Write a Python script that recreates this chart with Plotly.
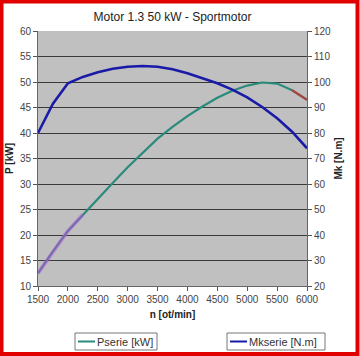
import plotly.graph_objects as go

rpm = [1500, 1750, 2000, 2250, 2500, 2750, 3000, 3250, 3500, 3750,
       4000, 4250, 4500, 4750, 5000, 5250, 5500, 5750, 6000]
p_kw = [12.5, 16.8, 20.8, 24.0, 27.1, 30.2, 33.3, 36.2, 38.9, 41.2,
        43.3, 45.2, 46.9, 48.3, 49.3, 49.9, 49.7, 48.4, 46.5]
mk_nm = [80.0, 91.5, 99.5, 102.0, 103.8, 105.2, 106.0, 106.3, 106.0, 105.0,
         103.4, 101.6, 99.5, 97.0, 94.0, 90.2, 85.8, 80.5, 74.0]

title = "Motor 1.3 50 kW - Sportmotor"
series_names = ["Pserie [kW]", "Mkserie [N.m]"]
x_ticks = [1500, 2000, 2500, 3000, 3500, 4000, 4500, 5000, 5500, 6000]

W, H = 360, 356
L, R, T, B = 38, 53, 31, 70
pw, ph = W - L - R, H - T - B

def px(x):
    return (x - L) / pw

def py(y):
    return (H - B - y) / ph

FONT = "Liberation Sans, Arial, sans-serif"
COL_P = "#2a8a7c"
COL_M = "#1a1aa8"

fig = go.Figure()
fig.add_trace(go.Scatter(x=rpm, y=p_kw, name=series_names[0], mode="lines",
                         line=dict(color=COL_P, width=2.2)))
# faint highlight artefacts seen on the power curve in the reference
fig.add_trace(go.Scatter(x=rpm[:4], y=p_kw[:4], mode="lines", hoverinfo="skip",
                         line=dict(color="rgba(200,80,230,0.45)", width=4)))
fig.add_trace(go.Scatter(x=rpm[-2:], y=p_kw[-2:], mode="lines", hoverinfo="skip",
                         line=dict(color="rgba(220,40,40,0.7)", width=2.4)))
fig.add_trace(go.Scatter(x=rpm, y=mk_nm, name=series_names[1], mode="lines",
                         line=dict(color=COL_M, width=2.6), yaxis="y2"))

fig.update_layout(
    width=W, height=H,
    margin=dict(l=L, r=R, t=T, b=B, autoexpand=False),
    paper_bgcolor="white",
    plot_bgcolor="#c0c0c0",
    showlegend=False,
    font=dict(family=FONT, size=10, color="#444"),
    title=dict(text=title, x=0.5, xref="paper", y=1 - 17 / H, yanchor="middle",
               font=dict(size=12, color="#222")),
    xaxis=dict(range=[1500, 6000], tickvals=x_ticks, ticks="outside", ticklen=4,
               tickcolor="#555", showgrid=False, showline=True, linecolor="#666",
               zeroline=False, automargin=False,
               title=dict(text="<b>n [ot/min]</b>", standoff=6,
                          font=dict(size=10, color="#222"))),
    yaxis=dict(range=[10, 60], dtick=5, ticks="outside", ticklen=4,
               tickcolor="#555", showgrid=True, gridcolor="#3a3a3a", gridwidth=1,
               showline=True, linecolor="#666", zeroline=False, automargin=False,
               title=dict(text="<b>P [kW]</b>", standoff=4,
                          font=dict(size=10, color="#222"))),
    yaxis2=dict(range=[20, 120], dtick=10, overlaying="y", side="right",
                ticks="outside", ticklen=4, tickcolor="#555", showgrid=False,
                showline=True, linecolor="#666", zeroline=False, automargin=False,
                title=dict(text="<b>Mk [N.m]</b>", standoff=4,
                           font=dict(size=10, color="#222"))),
)

# two separate legend boxes, drawn like the reference
legend_boxes = [(75, 157, COL_P), (227, 325, COL_M)]
for (bx0, bx1, col), name in zip(legend_boxes, series_names):
    fig.add_shape(type="rect", xref="paper", yref="paper",
                  x0=px(bx0), x1=px(bx1), y0=py(350), y1=py(333),
                  line=dict(color="#777", width=1), fillcolor="white")
    fig.add_shape(type="line", xref="paper", yref="paper",
                  x0=px(bx0 + 3), x1=px(bx0 + 20), y0=py(341.5), y1=py(341.5),
                  line=dict(color=col, width=2))
    fig.add_annotation(text=name, xref="paper", yref="paper",
                       x=px(bx0 + 20), y=py(341.5), xanchor="left",
                       yanchor="middle", showarrow=False,
                       font=dict(size=11, color="#333"))

# red frame around the whole picture
fig.add_shape(type="rect", xref="paper", yref="paper",
              x0=px(1.5), x1=px(357.5), y0=py(354), y1=py(1.5),
              line=dict(color="#e00000", width=4), layer="above")

fig.write_html(
    "out.html",
    config={"displayModeBar": False},
    post_script="document.body.style.margin='0';document.body.style.padding='0';",
)
